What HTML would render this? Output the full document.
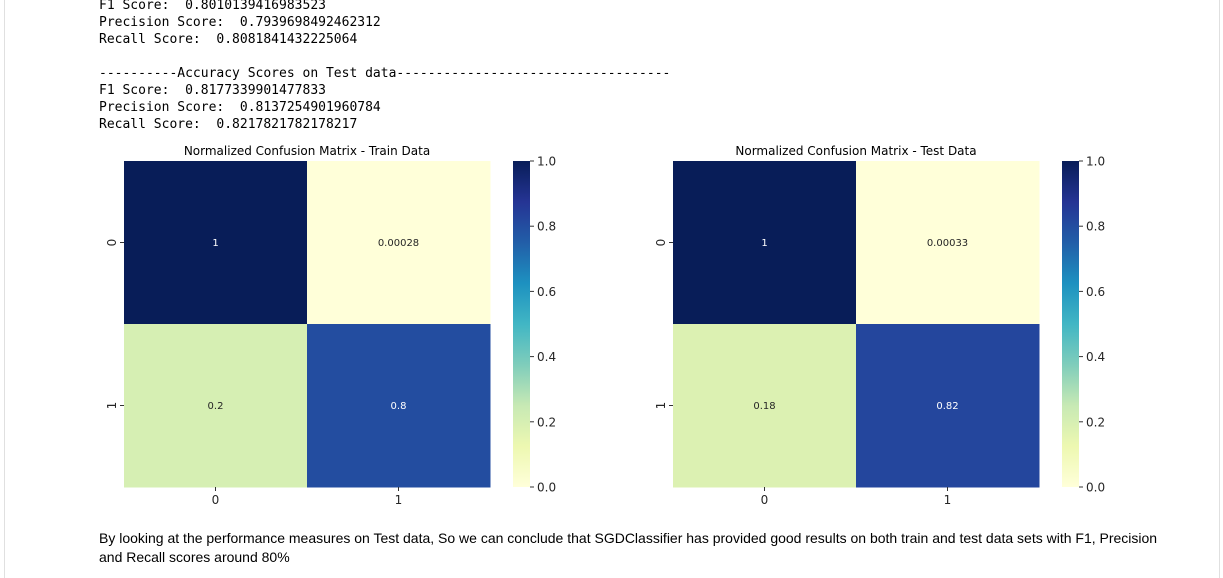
<!DOCTYPE html>
<html><head><meta charset="utf-8"><style>
body{margin:0;width:1223px;height:571px;overflow:hidden;background:#fff;position:relative;font-family:"Liberation Sans",sans-serif}
.frame{position:absolute;left:4px;top:-2px;width:1214px;height:580px;border-left:1px solid #e0e0e0;border-right:1px solid #e0e0e0}
pre{position:absolute;left:99px;top:-3px;margin:0;font-family:"DejaVu Sans Mono","Liberation Mono",monospace;font-size:13px;line-height:17px;color:#000}
.para{position:absolute;left:99px;top:529px;width:1072px;font-size:14px;line-height:19px;color:#000}
</style></head><body>
<div class="frame"></div>
<pre>F1 Score:  0.8010139416983523
Precision Score:  0.7939698492462312
Recall Score:  0.8081841432225064

----------Accuracy Scores on Test data-----------------------------------
F1 Score:  0.8177339901477833
Precision Score:  0.8137254901960784
Recall Score:  0.8217821782178217</pre>
<svg id="chart" width="1223" height="571" style="position:absolute;left:0;top:0">
<defs><linearGradient id="cb" x1="0" y1="1" x2="0" y2="0">
<stop offset="0" stop-color="#ffffd9"/><stop offset=".125" stop-color="#edf8b1"/><stop offset=".25" stop-color="#c7e9b4"/><stop offset=".375" stop-color="#7fcdbb"/><stop offset=".5" stop-color="#41b6c4"/><stop offset=".625" stop-color="#1d91c0"/><stop offset=".75" stop-color="#225ea8"/><stop offset=".875" stop-color="#253494"/><stop offset="1" stop-color="#081d58"/></linearGradient></defs>
</svg>
<div class="para">By looking at the performance measures on Test data, So we can conclude that SGDClassifier has provided good results on both train and test data sets with F1, Precision and Recall scores around 80%</div>
<script>
const classes=["0","1"];
const trainValues=[[1,0.00028],[0.2,0.8]];
const trainLabels=[["1","0.00028"],["0.2","0.8"]];
const testValues=[[1,0.00033],[0.18,0.82]];
const testLabels=[["1","0.00033"],["0.18","0.82"]];
const cbTicks=[0,0.2,0.4,0.6,0.8,1.0];
const stops=["#ffffd9","#edf8b1","#c7e9b4","#7fcdbb","#41b6c4","#1d91c0","#225ea8","#253494","#081d58"];
function hex(h){return [1,3,5].map(i=>parseInt(h.substr(i,2),16));}
function cmap(v){v=Math.max(0,Math.min(1,v));const p=v*8,i=Math.min(7,Math.floor(p)),t=p-i;const a=hex(stops[i]),b=hex(stops[i+1]);return "rgb("+a.map((x,k)=>Math.round(x+(b[k]-x)*t)).join(",")+")";}
const svg=document.getElementById("chart");const NS="http://www.w3.org/2000/svg";
function el(tag,attrs,parent){const e=document.createElementNS(NS,tag);for(const k in attrs)e.setAttribute(k,attrs[k]);(parent||svg).appendChild(e);return e;}
function draw(x0,title,vals,labels,key){
  const y0=161,W=366,H=326,cw=W/classes.length,ch=H/classes.length;
  const g=el("g",{});
  
  
  const t=el("text",{x:x0+W/2,y:155,"text-anchor":"middle","font-size":"12","font-family":"DejaVu Sans, Liberation Sans, sans-serif",fill:"#000"},g);t.textContent=title;
  
  
  vals.forEach((row,r)=>row.forEach((v,c)=>{
    const rc=el("rect",{x:x0+c*cw,y:y0+r*ch,width:cw+0.5,height:ch+0.5,fill:cmap(v)},g);
    
    
    const tx=el("text",{x:x0+c*cw+cw/2,y:y0+r*ch+ch/2+3.5,"text-anchor":"middle","font-size":"10","font-family":"DejaVu Sans, Liberation Sans, sans-serif",fill:v>0.5?"#fff":"#262626"},g);tx.textContent=labels[r][c];
    
    
  }));
  classes.forEach((lab,i)=>{
    const cx=x0+i*cw+cw/2;
    el("line",{x1:cx,x2:cx,y1:y0+H,y2:y0+H+4,stroke:"#333"},g);
    const xt=el("text",{x:cx,y:y0+H+17,"text-anchor":"middle","font-size":"12","font-family":"DejaVu Sans, sans-serif",fill:"#262626"},g);xt.textContent=lab;
    
    
    const cy=y0+i*ch+ch/2;
    el("line",{x1:x0-4,x2:x0,y1:cy,y2:cy,stroke:"#333"},g);
    const yt=el("text",{x:0,y:0,"text-anchor":"middle","font-size":"12","font-family":"DejaVu Sans, sans-serif",fill:"#262626",transform:"translate("+(x0-8)+","+cy+") rotate(-90)"},g);yt.textContent=lab;
    
    
  });
  const bx=x0+389,bw=17;
  const cb=el("rect",{x:bx,y:y0,width:bw,height:H,fill:"url(#cb)"},g);
  
  
  cbTicks.forEach(v=>{
    const yy=y0+H-v*H;
    el("line",{x1:bx+bw,x2:bx+bw+4,y1:yy,y2:yy,stroke:"#333"},g);
    const ct=el("text",{x:bx+bw+7,y:yy+4.5,"font-size":"12","font-family":"DejaVu Sans, sans-serif",fill:"#262626"},g);ct.textContent=v.toFixed(1);
    
    
  });
}
draw(124,"Normalized Confusion Matrix - Train Data",trainValues,trainLabels,"train");
draw(673,"Normalized Confusion Matrix - Test Data",testValues,testLabels,"test");
</script>
</body></html>
